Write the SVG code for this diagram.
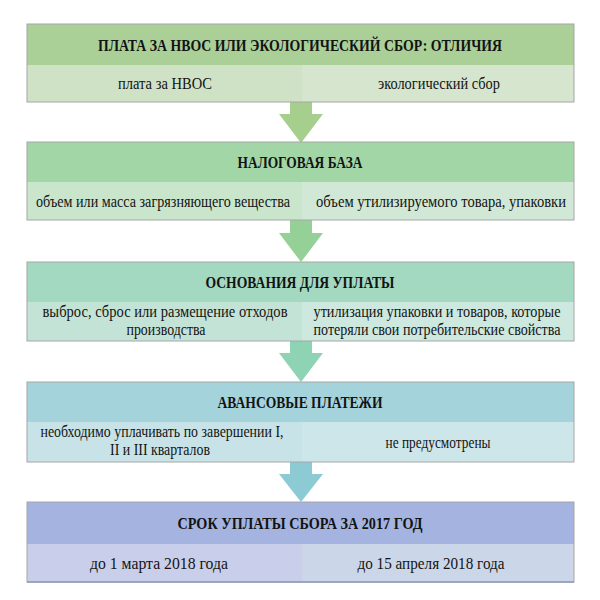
<svg xmlns="http://www.w3.org/2000/svg" width="600" height="600" viewBox="0 0 600 600" font-family="'Liberation Serif', Tinos, 'Noto Serif', 'DejaVu Serif', 'Times New Roman', Times, serif">
<style>
text{fill:#131313;text-anchor:middle}
.h{font-size:17px;font-weight:bold}
.s{font-size:16px}
.frame{fill:none;stroke:#a6a6a6;stroke-width:1}
</style>
<rect width="600" height="600" fill="#ffffff"/>
<g id="connectors">
<polygon points="290,102 312,102 312,114 323,114 301,143 279,114 290,114" fill="#a6cf8e"/>
<polygon points="290,220 312,220 312,233 323,233 301,262 279,233 290,233" fill="#95d197"/>
<polygon points="290,341 312,341 312,353 323,353 301,382 279,353 290,353" fill="#8ed3b3"/>
<polygon points="290,462 312,462 312,474 323,474 301,502 279,474 290,474" fill="#8ccbd4"/>
</g>
<g id="node1">
<rect x="27" y="24" width="547" height="41" fill="#aad097"/>
<rect x="27" y="65" width="275" height="37" fill="#d0e2c5"/>
<rect x="302" y="65" width="272" height="37" fill="#d6e5ce"/>
<rect x="27" y="24" width="547" height="78" class="frame"/>
<text class="h" x="300" y="51" textLength="404" lengthAdjust="spacingAndGlyphs">ПЛАТА ЗА НВОС ИЛИ ЭКОЛОГИЧЕСКИЙ СБОР: ОТЛИЧИЯ</text>
<text class="s" x="165" y="89" textLength="94" lengthAdjust="spacingAndGlyphs">плата за НВОС</text>
<text class="s" x="439" y="89" textLength="122" lengthAdjust="spacingAndGlyphs">экологический сбор</text>
</g>
<g id="node2">
<rect x="27" y="142" width="547" height="40" fill="#a3d6a7"/>
<rect x="27" y="182" width="275" height="38" fill="#c9e5cc"/>
<rect x="302" y="182" width="272" height="38" fill="#d1e8d6"/>
<rect x="27" y="142" width="547" height="78" class="frame"/>
<text class="h" x="300" y="168" textLength="125" lengthAdjust="spacingAndGlyphs">НАЛОГОВАЯ БАЗА</text>
<text class="s" x="163" y="207" textLength="254" lengthAdjust="spacingAndGlyphs">объем или масса загрязняющего вещества</text>
<text class="s" x="441" y="207" textLength="250" lengthAdjust="spacingAndGlyphs">объем утилизируемого товара, упаковки</text>
</g>
<g id="node3">
<rect x="27" y="262" width="547" height="40" fill="#a3d8c1"/>
<rect x="27" y="302" width="275" height="39" fill="#c4e3d7"/>
<rect x="302" y="302" width="272" height="39" fill="#cde8df"/>
<rect x="27" y="262" width="547" height="79" class="frame"/>
<text class="h" x="300" y="288" textLength="189" lengthAdjust="spacingAndGlyphs">ОСНОВАНИЯ ДЛЯ УПЛАТЫ</text>
<text class="s" x="165" y="317" textLength="245" lengthAdjust="spacingAndGlyphs">выброс, сброс или размещение  отходов</text>
<text class="s" x="166" y="335" textLength="79" lengthAdjust="spacingAndGlyphs">производства</text>
<text class="s" x="437" y="317" textLength="247" lengthAdjust="spacingAndGlyphs">утилизация  упаковки и товаров, которые</text>
<text class="s" x="437" y="335" textLength="247" lengthAdjust="spacingAndGlyphs">потеряли свои потребительские  свойства</text>
</g>
<g id="node4">
<rect x="27" y="382" width="547" height="40" fill="#a5d3db"/>
<rect x="27" y="422" width="275" height="40" fill="#c7e3e8"/>
<rect x="302" y="422" width="272" height="40" fill="#cde6ea"/>
<rect x="27" y="382" width="547" height="80" class="frame"/>
<text class="h" x="300" y="408" textLength="165" lengthAdjust="spacingAndGlyphs">АВАНСОВЫЕ ПЛАТЕЖИ</text>
<text class="s" x="162" y="437" textLength="243" lengthAdjust="spacingAndGlyphs">необходимо уплачивать  по завершении I,</text>
<text class="s" x="160" y="455" textLength="100" lengthAdjust="spacingAndGlyphs">II и III кварталов</text>
<text class="s" x="438" y="448" textLength="105" lengthAdjust="spacingAndGlyphs">не предусмотрены</text>
</g>
<g id="node5">
<rect x="27" y="502" width="547" height="42" fill="#a4b3df"/>
<rect x="27" y="544" width="275" height="38" fill="#c9cfea"/>
<rect x="302" y="544" width="272" height="38" fill="#cbd7e9"/>
<rect x="27" y="502" width="547" height="80" class="frame"/>
<line x1="27" y1="582" x2="574" y2="582" stroke="#8f9ab8" stroke-width="1.5"/>
<text class="h" x="300" y="529" textLength="245" lengthAdjust="spacingAndGlyphs">СРОК УПЛАТЫ СБОРА ЗА 2017 ГОД</text>
<text class="s" x="159" y="569" textLength="138" lengthAdjust="spacingAndGlyphs">до 1 марта 2018 года</text>
<text class="s" x="431" y="569" textLength="147" lengthAdjust="spacingAndGlyphs">до 15 апреля 2018 года</text>
</g>
</svg>
